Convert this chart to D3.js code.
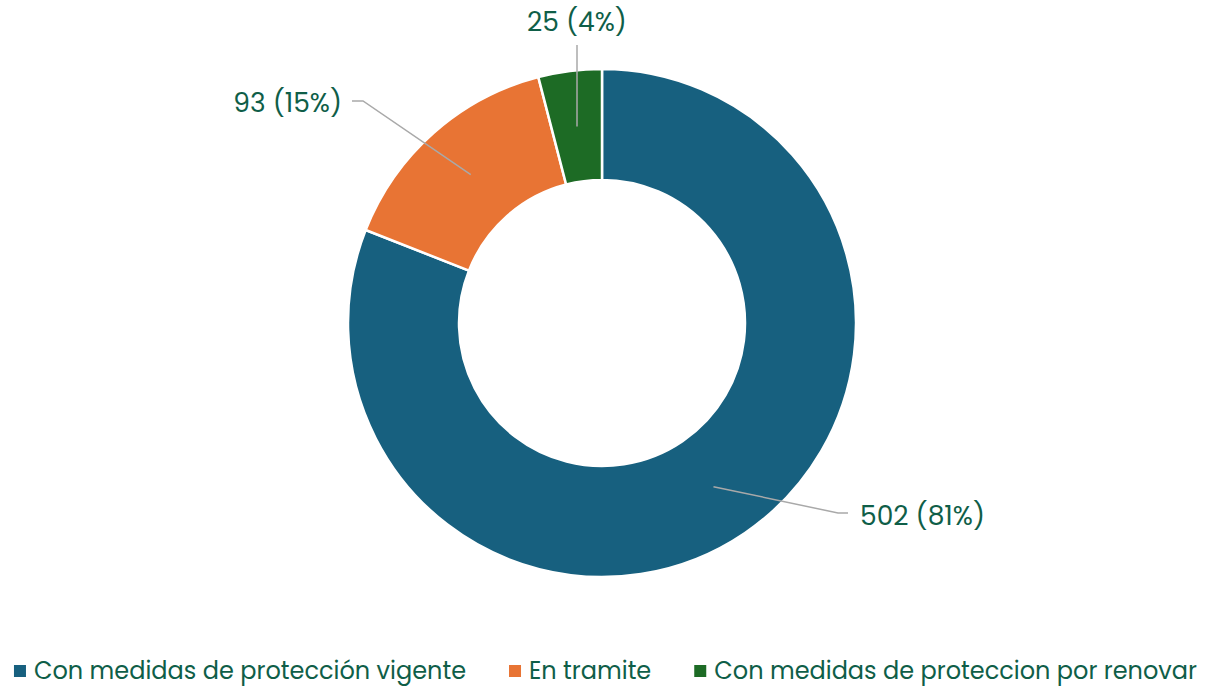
<!DOCTYPE html>
<html>
<head>
<meta charset="utf-8">
<script src="https://cdn.jsdelivr.net/npm/d3@7"></script>
<style>
  body { margin: 0; background: #fff; }
  text { font-family: Poppins, Inter, "Noto Sans", sans-serif; }
</style>
</head>
<body>
<svg id="chart"></svg>
<script>
const width = 1205, height = 688

// data
const categories = ["Con medidas de protección vigente", "En tramite", "Con medidas de proteccion por renovar"]
const values = [502, 93, 25]
const colors = ["#17607f", "#e87434", "#1d6b25"]

const textColor = "#0f5e48"
const cx = 602, cy = 323
const outerR = 254, innerR = 143

const svg = d3.select("#chart")
    .attr("width", width)
    .attr("height", height)

const total = d3.sum(values)
const data = categories.map((c, i) => ({ name: c, value: values[i], color: colors[i] }))

const pie = d3.pie().value(d => d.value).sort(null)
const arcs = pie(data)
const arc = d3.arc().innerRadius(innerR).outerRadius(outerR)
const midArc = d3.arc().innerRadius(198).outerRadius(198)

const g = svg.append("g").attr("transform", `translate(${cx},${cy})`)

g.selectAll("path")
    .data(arcs)
    .enter()
    .append("path")
    .attr("d", arc)
    .attr("fill", d => d.data.color)
    .attr("stroke", "#fff")
    .attr("stroke-width", 2.5)

// label positions (elbow point relative to centre, text anchor side)
const labelPos = [
    { elbow: [236, 190], end: [246, 190], anchor: "start", text: [258, 193] },
    { elbow: [-239, -222], end: [-250, -222], anchor: "end", text: [-260, -220] },
    { elbow: null, end: [-25, -278], anchor: "middle", text: [-25, -301] }
]

arcs.forEach((d, i) => {
    let p0 = midArc.centroid(d)
    let lp = labelPos[i]
    let pts = [p0]
    if (lp.elbow) pts.push(lp.elbow)
    pts.push(lp.end)
    g.append("polyline")
        .attr("points", pts.map(p => p.join(",")).join(" "))
        .attr("fill", "none")
        .attr("stroke", "#a9a9a9")
        .attr("stroke-width", 1.5)
    let pct = Math.round(d.data.value / total * 100)
    g.append("text")
        .attr("x", lp.text[0])
        .attr("y", lp.text[1])
        .attr("text-anchor", lp.anchor)
        .attr("dy", "0.35em")
        .attr("font-size", 26.5)
        .attr("fill", textColor)
        .text(`${d.data.value} (${pct}%)`)
})

// legend
const legend = svg.append("g")
let items = legend.selectAll("g")
    .data(data)
    .enter()
    .append("g")

items.append("rect")
    .attr("width", 12)
    .attr("height", 12)
    .attr("y", -6)
    .attr("fill", d => d.color)

items.append("text")
    .attr("x", 20)
    .attr("dy", "0.35em")
    .attr("font-size", 24)
    .attr("fill", textColor)
    .text(d => d.name)

let x = 0
const gap = 43
items.each(function () {
    let w = this.getBBox().width
    d3.select(this).attr("transform", `translate(${x},0)`)
    x += w + gap
})
const legendW = x - gap
legend.attr("transform", `translate(${(width - legendW) / 2 + 3},671)`)
</script>
</body>
</html>
